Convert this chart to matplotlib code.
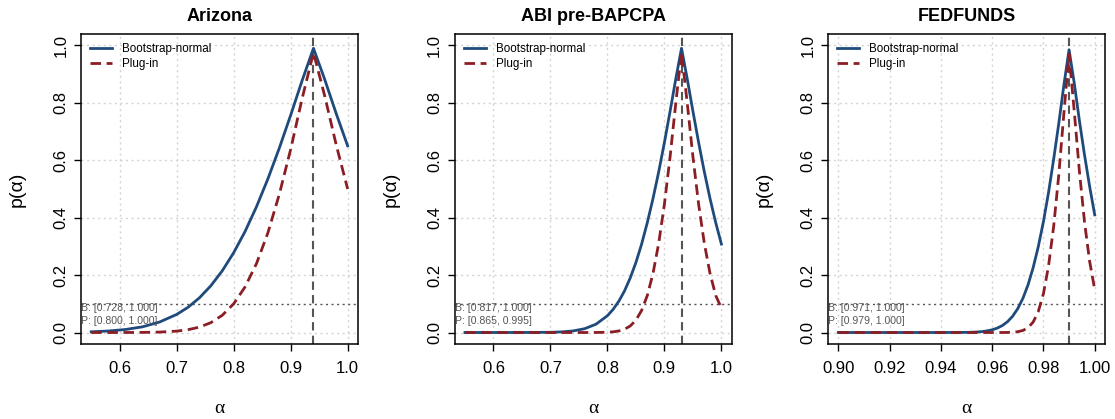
import numpy as np
import matplotlib.pyplot as plt
import matplotlib.transforms as mtransforms

plt.rcParams['font.family'] = ['Liberation Sans', 'DejaVu Sans']

# datos
titulos = ['Arizona', 'ABI pre-BAPCPA', 'FEDFUNDS']

x_az = [0.55, 0.58, 0.61, 0.64, 0.67, 0.70, 0.72, 0.74, 0.76, 0.78, 0.80,
        0.82, 0.84, 0.86, 0.88, 0.90, 0.92, 0.94, 0.96, 0.98, 1.00]
boot_az = [0.0025, 0.0053, 0.0105, 0.0198, 0.0366, 0.063, 0.088, 0.121, 0.163, 0.215, 0.278,
           0.352, 0.438, 0.535, 0.642, 0.757, 0.877, 0.99, 0.88, 0.762, 0.65]
plug_az = [0.0, 0.0, 0.0001, 0.0004, 0.0015, 0.0048, 0.0099, 0.0188, 0.0344, 0.060, 0.100,
           0.159, 0.240, 0.347, 0.481, 0.638, 0.814, 0.975, 0.822, 0.653, 0.50]

x_abi = [0.55, 0.60, 0.65, 0.70, 0.72, 0.74, 0.76, 0.78, 0.80, 0.81, 0.82, 0.83, 0.84,
         0.85, 0.86, 0.87, 0.88, 0.89, 0.90, 0.91, 0.92, 0.93, 0.94, 0.95, 0.96, 0.97,
         0.98, 0.99, 1.00]
boot_abi = [0.0, 0.0, 0.00005, 0.0008, 0.0022, 0.0056, 0.0133, 0.029, 0.0585, 0.0807, 0.109,
            0.145, 0.190, 0.244, 0.308, 0.383, 0.467, 0.560, 0.662, 0.771, 0.884, 0.99,
            0.884, 0.771, 0.662, 0.560, 0.467, 0.383, 0.308]
plug_abi = [0.0, 0.0, 0.0, 0.0, 0.0, 0.0, 0.00002, 0.00015, 0.001, 0.0024, 0.0054,
            0.0114, 0.0227, 0.043, 0.077, 0.129, 0.206, 0.311, 0.447, 0.613, 0.800, 0.975,
            0.800, 0.613, 0.447, 0.311, 0.206, 0.129, 0.085]

x_fed = [0.90, 0.91, 0.92, 0.93, 0.94, 0.95, 0.952, 0.954, 0.956, 0.958, 0.960, 0.962,
         0.964, 0.966, 0.968, 0.970, 0.972, 0.974, 0.976, 0.978, 0.980, 0.982, 0.984,
         0.986, 0.988, 0.990, 0.992, 0.994, 0.996, 0.998, 1.000]
boot_fed = [0.0, 0.0, 0.0, 0.0, 0.00002, 0.0005, 0.001, 0.0018, 0.0032, 0.0056, 0.0094, 0.0153,
            0.0244, 0.0377, 0.0568, 0.0833, 0.119, 0.166, 0.226, 0.299, 0.386, 0.488, 0.604,
            0.729, 0.863, 0.985, 0.87, 0.74, 0.62, 0.51, 0.41]
plug_fed = [0.0, 0.0, 0.0, 0.0, 0.0, 0.0, 0.0, 0.0, 0.0, 0.0, 0.0, 0.00003,
            0.0001, 0.0003, 0.001, 0.0028, 0.0071, 0.0168, 0.0364, 0.0728, 0.135, 0.232, 0.370,
            0.550, 0.765, 0.97, 0.773, 0.565, 0.387, 0.249, 0.150]

picos = [0.94, 0.93, 0.99]
intervalos = [('B: [0.728, 1.000]', 'P: [0.800, 1.000]'),
              ('B: [0.817, 1.000]', 'P: [0.865, 0.995]'),
              ('B: [0.971, 1.000]', 'P: [0.979, 1.000]')]
xticks = [[0.6, 0.7, 0.8, 0.9, 1.0],
          [0.6, 0.7, 0.8, 0.9, 1.0],
          [0.90, 0.92, 0.94, 0.96, 0.98, 1.00]]
xfmt = ['{:.1f}', '{:.1f}', '{:.2f}']
yticks = [0.0, 0.2, 0.4, 0.6, 0.8, 1.0]

datos = [(x_az, boot_az, plug_az), (x_abi, boot_abi, plug_abi), (x_fed, boot_fed, plug_fed)]

azul = '#1F4A7C'
rojo = '#8B1E24'

fig = plt.figure(figsize=(11.15, 4.19), dpi=100)
izquierdas = [0.0726, 0.4078, 0.7426]

for i in range(3):
    ax = fig.add_axes([izquierdas[i], 0.179, 0.2484, 0.740])
    x, b, p = datos[i]

    # rejilla punteada
    for t in xticks[i]:
        ax.axvline(t, color='#d3d3d3', lw=1, ls=(0, (1.5, 2.5)), zorder=0)
    for t in yticks:
        ax.axhline(t, color='#d3d3d3', lw=1, ls=(0, (1.5, 2.5)), zorder=0)

    ax.plot(x, b, color=azul, lw=2.0, label='Bootstrap-normal', zorder=3)
    ax.plot(x, p, color=rojo, lw=2.0, ls=(0, (3.8, 2)), label='Plug-in', zorder=3)

    ax.axvline(picos[i], color='#555555', lw=1.5, ls=(0, (4, 2.5)), zorder=2)
    ax.axhline(0.1, color='#555555', lw=1, ls=(0, (1.5, 2.5)), zorder=2)

    trans = mtransforms.blended_transform_factory(ax.transAxes, ax.transData)
    ax.text(0.0, 0.084, intervalos[i][0], transform=trans, ha='left', va='center',
            fontsize=7.6, color='#555555')
    ax.text(0.0, 0.040, intervalos[i][1], transform=trans, ha='left', va='center',
            fontsize=7.6, color='#555555')

    xmin, xmax = min(x), max(x)
    pad = (xmax - xmin) * 0.04
    ax.set_xlim(xmin - pad, xmax + pad)
    ax.set_ylim(-0.04, 1.04)

    ax.set_xticks(xticks[i])
    ax.set_xticklabels([xfmt[i].format(t) for t in xticks[i]])
    ax.set_yticks(yticks)
    ax.set_yticklabels(['{:.1f}'.format(t) for t in yticks])
    for lab in ax.get_yticklabels():
        lab.set_rotation(90)
        lab.set_va('center')
    ax.tick_params(direction='out', length=5, width=1, labelsize=12, pad=4)
    ax.tick_params(axis='x', pad=7)

    for s in ax.spines.values():
        s.set_linewidth(1.1)

    ax.set_title(titulos[i], fontsize=13, fontweight='bold', pad=9)
    ax.set_xlabel('α', fontsize=14, family=['Liberation Serif'])
    ax.xaxis.set_label_coords(0.5, -0.18)
    ax.set_ylabel('p(α)', fontsize=14)
    ax.yaxis.set_label_coords(-0.20, 0.5)

    ax.legend(loc='upper left', frameon=False, fontsize=8.4, handlelength=1.9,
              handletextpad=0.8, borderpad=0, borderaxespad=0.8, labelspacing=0.2)

plt.savefig('out.png', dpi=100)
